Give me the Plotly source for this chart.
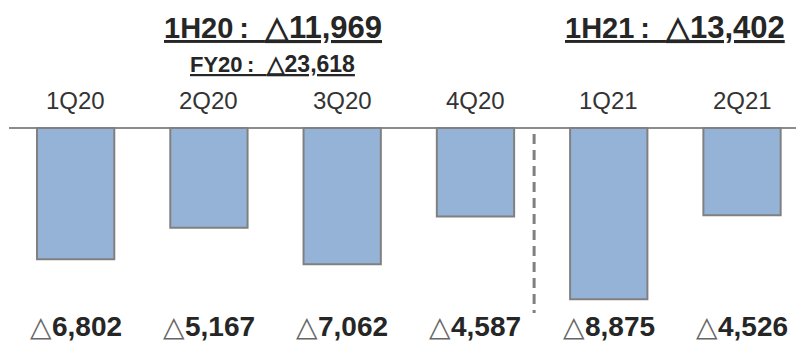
import plotly.graph_objects as go

quarters = ["1Q20", "2Q20", "3Q20", "4Q20", "1Q21", "2Q21"]
values = [-6802, -5167, -7062, -4587, -8875, -4526]
value_labels = ["6,802", "5,167", "7,062", "4,587", "8,875", "4,526"]
header_names = ["1H20", "FY20", "1H21"]
header_values = ["11,969", "23,618", "13,402"]

xs = list(range(len(quarters)))

fig = go.Figure()
fig.add_trace(go.Bar(
    x=xs, y=values, width=0.58,
    marker=dict(color="#95B3D7", line=dict(color="#808080", width=2)),
    hoverinfo="skip",
))

FONT = "Liberation Sans, Arial, sans-serif"


def header(name, val, vsize):
    return ("<b><u>" + name + "&#8201;:&nbsp;&nbsp;<span style='font-size:%dpx'>△" % vsize
            + val + "</span></u></b>")


ann = []
for i, q in enumerate(quarters):
    ann.append(dict(x=i, y=1 - 101 / 342, xref="x", yref="paper", text=q,
                    showarrow=False, font=dict(family=FONT, size=24, color="#333333"),
                    xanchor="center", yanchor="middle"))
    ann.append(dict(x=i, y=1 - 326 / 342, xref="x", yref="paper",
                    text="<span style='color:#666666'>△</span><b>" + value_labels[i] + "</b>",
                    showarrow=False, font=dict(family=FONT, size=28, color="#262626"),
                    xanchor="center", yanchor="middle"))

ann.append(dict(x=1.48, y=1 - 27 / 342, xref="x", yref="paper",
                text=header(header_names[0], header_values[0], 31), showarrow=False,
                font=dict(family=FONT, size=29, color="#262626"), xanchor="center", yanchor="middle"))
ann.append(dict(x=1.48, y=1 - 64 / 342, xref="x", yref="paper",
                text=header(header_names[1], header_values[1], 23), showarrow=False,
                font=dict(family=FONT, size=22, color="#262626"), xanchor="center", yanchor="middle"))
ann.append(dict(x=4.5, y=1 - 27 / 342, xref="x", yref="paper",
                text=header(header_names[2], header_values[2], 31), showarrow=False,
                font=dict(family=FONT, size=29, color="#262626"), xanchor="center", yanchor="middle"))

fig.add_shape(type="line", xref="x", yref="paper", x0=3.44, x1=3.44,
              y0=1 - 134 / 342, y1=1 - 313 / 342,
              line=dict(color="#808080", width=3, dash="10px,6px"))

fig.update_layout(
    width=796, height=342,
    margin=dict(l=9, r=0, t=0, b=0),
    paper_bgcolor="white", plot_bgcolor="white",
    showlegend=False,
    annotations=ann,
    xaxis=dict(range=[-0.5, 5.405], visible=False, fixedrange=True),
    yaxis=dict(range=[-11088, 6632], showgrid=False, showticklabels=False,
               zeroline=True, zerolinecolor="#8C8C8C", zerolinewidth=2, fixedrange=True),
)

fig.write_html("out.html", config={"displayModeBar": False})
